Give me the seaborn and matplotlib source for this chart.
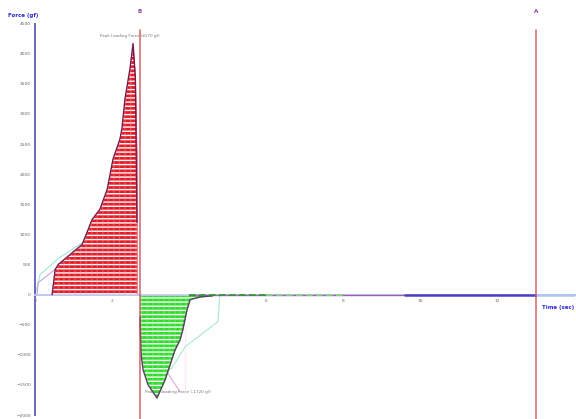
import numpy as np
import pandas as pd
import seaborn as sns
import matplotlib.pyplot as plt

# loading curve (positive force)
load_t = [0.44, 0.52, 0.60, 0.91, 1.22, 1.48, 1.68, 1.87, 2.02, 2.20, 2.25, 2.33, 2.46, 2.54, 2.60, 2.64, 2.64]
load_f = [0, 417, 500, 667, 833, 1250, 1417, 1750, 2250, 2583, 2750, 3250, 3750, 4170, 3600, 2400, 0]

# unloading curve (negative force)
unload_t = [2.72, 2.72, 2.75, 2.80, 2.93, 3.16, 3.37, 3.50, 3.63, 3.76, 3.83, 3.94, 4.02, 4.27, 4.60]
unload_f = [0, -750, -1000, -1250, -1500, -1717, -1417, -1167, -917, -750, -583, -250, -83, -40, -20]

# faint reference traces
cyan_load_t = [0.0, 0.13, 0.60, 1.24, 1.42, 1.60]
cyan_load_f = [0, 333, 600, 867, 1083, 1300]
purple_load_t = [0.05, 0.08, 0.52, 0.70]
purple_load_f = [0, 200, 417, 560]
cyan_unload_t = [4.79, 4.79, 4.74, 3.89, 3.55, 3.37]
cyan_unload_f = [-20, -33, -450, -867, -1217, -1283]
purple_unload_t = [3.89, 3.89]
purple_unload_f = [-83, -1617]
purple_diag_t = [3.42, 3.76]
purple_diag_f = [-1283, -1617]

markers_t = [2.72, 13.0]
marker_names = ["B", "A"]
xticks = [0, 2, 4, 6, 8, 10, 12]
yticks = [-2000, -1500, -1000, -500, 0, 500, 1000, 1500, 2000, 2500, 3000, 3500, 4000, 4500]

sns.set_style("white")
plt.rcParams['hatch.linewidth'] = 1.0

fig = plt.figure(figsize=(5.76, 4.19), dpi=100)
ax = fig.add_axes([0.061, 0.0095, 0.937, 0.934])

load = pd.DataFrame({"t": load_t, "f": load_f})
unload = pd.DataFrame({"t": unload_t, "f": unload_f})

# filled areas with white stripes
ax.fill_between(load["t"], load["f"], 0, facecolor="#e41c28", lw=0, zorder=2)
ax.fill_between(load["t"], load["f"], 0, facecolor="none", edgecolor="white", hatch="----", lw=0, zorder=3)
ax.fill_between(load["t"], load["f"], 0, facecolor="none", edgecolor="#f4a0a8", hatch="|||", lw=0, zorder=3, alpha=0.35)
ax.fill_between(unload["t"], unload["f"], 0, facecolor="#30dc2c", lw=0, zorder=2)
ax.fill_between(unload["t"], unload["f"], 0, facecolor="none", edgecolor="white", hatch="----", lw=0, zorder=3)
ax.fill_between(unload["t"], unload["f"], 0, facecolor="none", edgecolor="#b0f0b0", hatch="|||", lw=0, zorder=3, alpha=0.35)

sns.lineplot(data=load, x="t", y="f", sort=False, color="#7a1848", lw=1.0, ax=ax, zorder=4)
sns.lineplot(data=unload, x="t", y="f", sort=False, color="#5a4060", lw=1.0, ax=ax, zorder=4)

faint = [
    (cyan_load_t, cyan_load_f, "#9ee8d8"),
    (purple_load_t, purple_load_f, "#c8a0e0"),
    (cyan_unload_t, cyan_unload_f, "#a8e8d0"),
    (purple_unload_t, purple_unload_f, "#e0a8e0"),
    (purple_diag_t, purple_diag_f, "#e0a8e0"),
]
for tt, ff, c in faint:
    sns.lineplot(x=tt, y=ff, sort=False, color=c, lw=0.8, ax=ax, zorder=1)

# traces lying on the zero line
sns.lineplot(x=[4.0, 9.6], y=[0, 0], color="#a060b0", lw=1.0, ax=ax, zorder=3)
sns.lineplot(x=[9.6, 13.0], y=[0, 0], color="#4a40c8", lw=1.8, ax=ax, zorder=3)
ax.plot([4.0, 6.0], [0, 0], color="#2a9a2a", lw=1.2, ls=(0, (4, 2)), zorder=4)
ax.plot([6.0, 8.0], [0, 0], color="#8ad88a", lw=1.2, ls=(0, (4, 2)), zorder=4)
ax.plot([13.0, 14.0], [0, 0], color="#b0c4f0", lw=1.8, zorder=3)

# cursor lines
for t, name in zip(markers_t, marker_names):
    ax.axvline(t, ymin=-0.02, ymax=0.985, color="#c04448", lw=1.2, alpha=0.75, zorder=5, clip_on=False)
    ax.text(t, 4700, name, color="#9040a0", fontsize=4, ha="center", va="center", fontweight="bold")

ax.text(2.45, 4300, "Peak Loading Force (4170 gf)", fontsize=3, color="#777777", ha="center", va="center")
ax.text(3.7, -1620, "Peak Unloading Force (-1720 gf)", fontsize=3, color="#777777", ha="center", va="center")

ax.set_xlim(0, 14)
ax.set_ylim(-2000, 4500)
ax.set_xticks(xticks)
ax.set_yticks(yticks)
ax.tick_params(labelsize=3.2, labelcolor="#666666", length=2, width=0.6, color="#6a6ac0", pad=1)
ax.set_xlabel("")
ax.set_ylabel("")

ax.spines["left"].set_position(("data", 0))
ax.spines["left"].set_color("#6a6ac0")
ax.spines["left"].set_linewidth(1.4)
ax.spines["bottom"].set_position(("data", 0))
ax.spines["bottom"].set_color("#c0c8ee")
ax.spines["bottom"].set_linewidth(1.4)
ax.spines["top"].set_visible(False)
ax.spines["right"].set_visible(False)

fig.text(0.014, 0.962, "Force (gf)", fontsize=4, color="#2a2ad8", fontweight="bold", ha="left", va="center")
fig.text(0.997, 0.265, "Time (sec)", fontsize=4, color="#2a2ad8", fontweight="bold", ha="right", va="center")

fig.savefig("out.png", dpi=100)
